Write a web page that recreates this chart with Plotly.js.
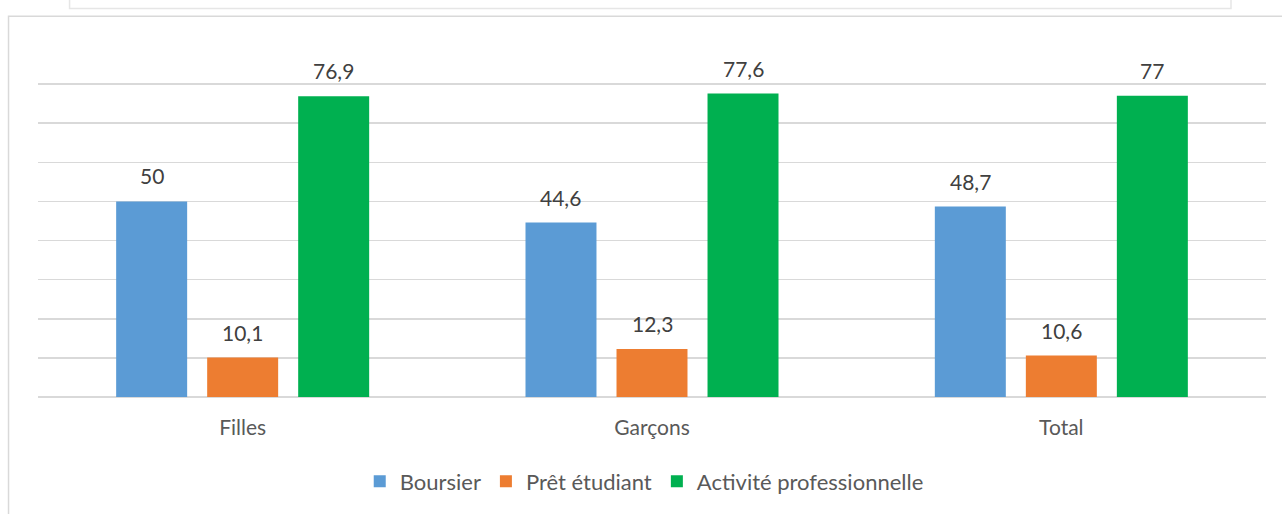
<!DOCTYPE html>
<html>
<head>
<meta charset="utf-8">
<script src="https://cdn.plot.ly/plotly-3.0.1.min.js"></script>
<style>html,body{margin:0;padding:0;background:#fff;}#chart{width:1282px;height:514px;}</style>
</head>
<body>
<div id="chart"></div>
<script>
const categories = ["Filles", "Garçons", "Total"];
const seriesNames = ["Boursier", "Prêt étudiant", "Activité professionnelle"];
const boursier = [50, 44.6, 48.7];
const pretEtudiant = [10.1, 12.3, 10.6];
const activitePro = [76.9, 77.6, 77];
const seriesColors = ["#5b9bd5", "#ed7d31", "#00b050"];

const seriesValues = [boursier, pretEtudiant, activitePro];
const fmt = v => String(v).replace('.', ',');
const FONT = "Lato, 'Open Sans', sans-serif";
const bargap = 0.333, bargroupgap = 0.22;

const traces = seriesValues.map((vals, j) => ({
  type: 'bar',
  name: seriesNames[j],
  x: categories,
  y: vals,
  marker: {color: seriesColors[j], line: {width: 0}},
  hoverinfo: 'none'
}));

const slot = (1 - bargap) / seriesValues.length;
const annotations = [];
seriesValues.forEach((vals, j) => {
  vals.forEach((v, i) => {
    annotations.push({
      x: i + (j - (seriesValues.length - 1) / 2) * slot,
      y: v, xref: 'x', yref: 'y',
      text: fmt(v), showarrow: false,
      yanchor: 'bottom', yshift: 11,
      font: {family: FONT, size: 21, color: '#404040'}
    });
  });
});

const layout = {
  width: 1282, height: 514,
  margin: {l: 38, r: 16, t: 45, b: 114},
  paper_bgcolor: '#ffffff', plot_bgcolor: '#ffffff',
  barmode: 'group', bargap: bargap, bargroupgap: bargroupgap,
  showlegend: true,
  legend: {
    orientation: 'h', x: 0.262, xanchor: 'left', y: -0.24, yanchor: 'middle',
    font: {family: FONT, size: 22, color: '#595959'},
    itemclick: false, itemdoubleclick: false
  },
  xaxis: {
    type: 'category', showgrid: false, zeroline: false, showline: false,
    ticks: '', ticklabelstandoff: 16,
    tickfont: {family: FONT, size: 21, color: '#595959'},
    fixedrange: true
  },
  yaxis: {
    range: [0, 90], dtick: 10, showticklabels: false,
    showgrid: true, gridcolor: '#d9d9d9', gridwidth: 1.5,
    zeroline: true, zerolinecolor: '#d9d9d9', zerolinewidth: 1.5,
    showline: false, fixedrange: true
  },
  annotations: annotations,
  shapes: [
    {type: 'rect', xref: 'paper', yref: 'paper', x0: -0.024, x1: 1.03, y0: 1.082, y1: -0.4,
     line: {color: '#d9d9d9', width: 1.5}, fillcolor: 'rgba(0,0,0,0)', layer: 'below'},
    {type: 'rect', xref: 'paper', yref: 'paper', x0: 0.0257, x1: 0.9715, y0: 1.104, y1: 1.16,
     line: {color: '#e6e6e6', width: 1.5}, fillcolor: 'rgba(0,0,0,0)', layer: 'below'}
  ]
};

Plotly.newPlot('chart', traces, layout, {displayModeBar: false, staticPlot: true});
</script>
</body>
</html>
